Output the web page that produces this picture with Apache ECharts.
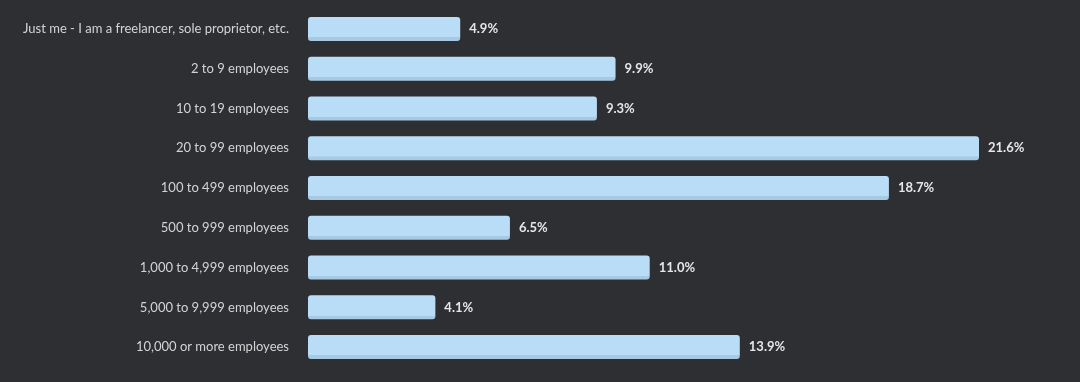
<!DOCTYPE html>
<html><head><meta charset="utf-8">
<script src="https://cdn.jsdelivr.net/npm/echarts@6/dist/echarts.min.js"></script>
<style>html,body{margin:0;padding:0;background:#2d2f33;}#c{width:1080px;height:382px;}</style>
</head><body><div id="c"></div>
<script>
const categories = [
  "Just me - I am a freelancer, sole proprietor, etc.",
  "2 to 9 employees",
  "10 to 19 employees",
  "20 to 99 employees",
  "100 to 499 employees",
  "500 to 999 employees",
  "1,000 to 4,999 employees",
  "5,000 to 9,999 employees",
  "10,000 or more employees"
];
const values = [4.9, 9.9, 9.3, 21.6, 18.7, 6.5, 11.0, 4.1, 13.9];

const chart = echarts.init(document.getElementById('c'), null, {renderer:'canvas'});
chart.setOption({
  backgroundColor: '#2d2f33',
  animation: false,
  grid: {left: 308, right: 101, top: 9, bottom: 15, containLabel: false},
  xAxis: {type: 'value', min: 0, max: 21.6, show: false},
  yAxis: {
    type: 'category', data: categories, inverse: true,
    axisLine: {show: false}, axisTick: {show: false}, splitLine: {show: false},
    axisLabel: {color: '#d4d4d4', fontSize: 13, fontFamily: 'Lato', margin: 19, padding: [2, 0, 0, 0]}
  },
  series: [{
    type: 'bar', data: values, barWidth: 24,
    itemStyle: {
      borderRadius: 3,
      color: {type: 'linear', x: 0, y: 0, x2: 0, y2: 1, colorStops: [
        {offset: 0, color: '#b9ddf7'}, {offset: 0.84, color: '#b9ddf7'},
        {offset: 0.85, color: '#a8c9e3'}, {offset: 1, color: '#a8c9e3'}
      ]}
    },
    label: {
      show: true, position: 'right', distance: 9,
      color: '#e6e6e6', fontSize: 13, fontWeight: 'bold', fontFamily: 'Lato',
      padding: [3, 0, 0, 0],
      formatter: p => p.value.toFixed(1) + '%'
    }
  }]
});
</script></body></html>
